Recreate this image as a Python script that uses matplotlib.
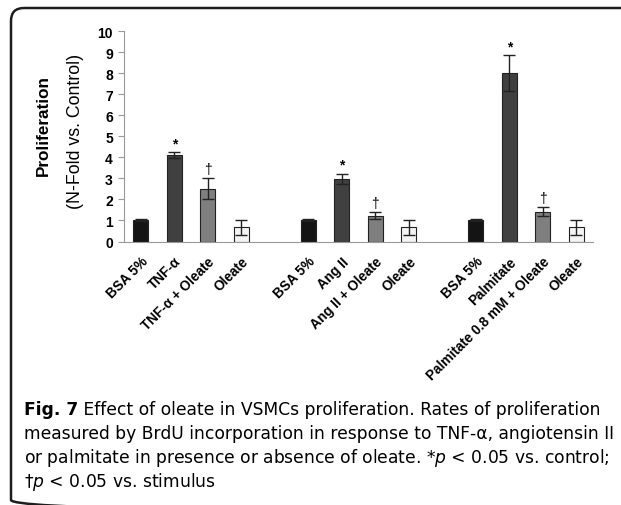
import matplotlib
matplotlib.use("Agg")
import matplotlib.pyplot as plt
from matplotlib.patches import FancyBboxPatch

# data
labels = ["BSA 5%", "TNF-α", "TNF-α + Oleate", "Oleate",
          "BSA 5%", "Ang II", "Ang II + Oleate", "Oleate",
          "BSA 5%", "Palmitate", "Palmitate 0.8 mM + Oleate", "Oleate"]
values = [1.03, 4.1, 2.5, 0.67,
          1.03, 2.97, 1.23, 0.67,
          1.03, 8.0, 1.42, 0.67]
errors = [0.04, 0.14, 0.5, 0.35,
          0.04, 0.25, 0.15, 0.35,
          0.04, 0.85, 0.22, 0.35]
marks = ["", "*", "†", "",
         "", "*", "†", "",
         "", "*", "†", ""]
positions = [0, 1, 2, 3, 5, 6, 7, 8, 10, 11, 12, 13]
colors = ["#141414", "#404040", "#7f7f7f", "#f4f4f4"] * 3

W, H = 621, 506
fig = plt.figure(figsize=(W / 100, H / 100), dpi=100)

# background axes in pixel units for the rounded frame
bg = fig.add_axes([0, 0, 1, 1])
bg.set_xlim(0, W)
bg.set_ylim(H, 0)
bg.axis("off")
frame = FancyBboxPatch((11, 9), 700, 505,
                       boxstyle="round,pad=0,rounding_size=13",
                       fill=False, edgecolor="#1e1e1e", linewidth=1.8)
bg.add_patch(frame)

ax = fig.add_axes([124 / W, (H - 242.5) / H, 469 / W, 210.5 / H])
ax.bar(positions, values, width=0.46, color=colors, edgecolor="#222222",
       linewidth=0.8, yerr=errors, capsize=4,
       error_kw=dict(ecolor="#222222", elinewidth=1.0, capthick=1.0))
for x, v, e, m in zip(positions, values, errors, marks):
    if m:
        ax.text(x, v + e + 0.1, m, ha="center", va="bottom",
                fontsize=10, fontweight="bold" if m == "*" else "normal",
                family="Liberation Sans")

ax.set_xlim(-0.5, 13.5)
ax.set_ylim(0, 10)
ax.set_yticks(range(0, 11))
ax.set_yticklabels([str(i) for i in range(0, 11)], fontsize=10,
                   fontweight="bold", family="Liberation Sans")
ax.set_xticks(positions)
ax.set_xticklabels(labels, rotation=45, ha="right", rotation_mode="anchor",
                   fontsize=9.8, fontweight="bold", family="Liberation Sans")
ax.tick_params(axis="x", length=0, pad=9)
ax.tick_params(axis="y", length=4, color="#999999", pad=4)
for s in ["top", "right"]:
    ax.spines[s].set_visible(False)
ax.spines["left"].set_color("#999999")
ax.spines["bottom"].set_color("#999999")

fig.text(43 / W, 1 - 125 / H, "Proliferation", rotation=90, ha="center",
         va="center", fontsize=12.3, fontweight="bold", family="Liberation Sans")
fig.text(76 / W, 1 - 131 / H, "(N-Fold vs. Control)", rotation=90,
         ha="center", va="center", fontsize=12.8, family="Liberation Sans")

# caption
cap_font = "DejaVu Sans"
cs = 12.3
x0 = 24 / W
t = fig.text(x0, 1 - 415 / H, "Fig. 7", fontsize=cs, fontweight="bold",
             family=cap_font, va="baseline")
fig.canvas.draw()
bb = t.get_window_extent()
fig.text(bb.x1 / W, 1 - 415 / H,
         " Effect of oleate in VSMCs proliferation. Rates of proliferation",
         fontsize=cs, family=cap_font, va="baseline")
fig.text(x0, 1 - 439 / H,
         "measured by BrdU incorporation in response to TNF-α, angiotensin II",
         fontsize=cs, family=cap_font, va="baseline")
fig.text(x0, 1 - 463 / H,
         "or palmitate in presence or absence of oleate. *$\\it{p}$ < 0.05 vs. control;",
         fontsize=cs, family=cap_font, va="baseline")
fig.text(x0, 1 - 487 / H, "†$\\it{p}$ < 0.05 vs. stimulus",
         fontsize=cs, family=cap_font, va="baseline")

fig.savefig("out.png", dpi=100)
